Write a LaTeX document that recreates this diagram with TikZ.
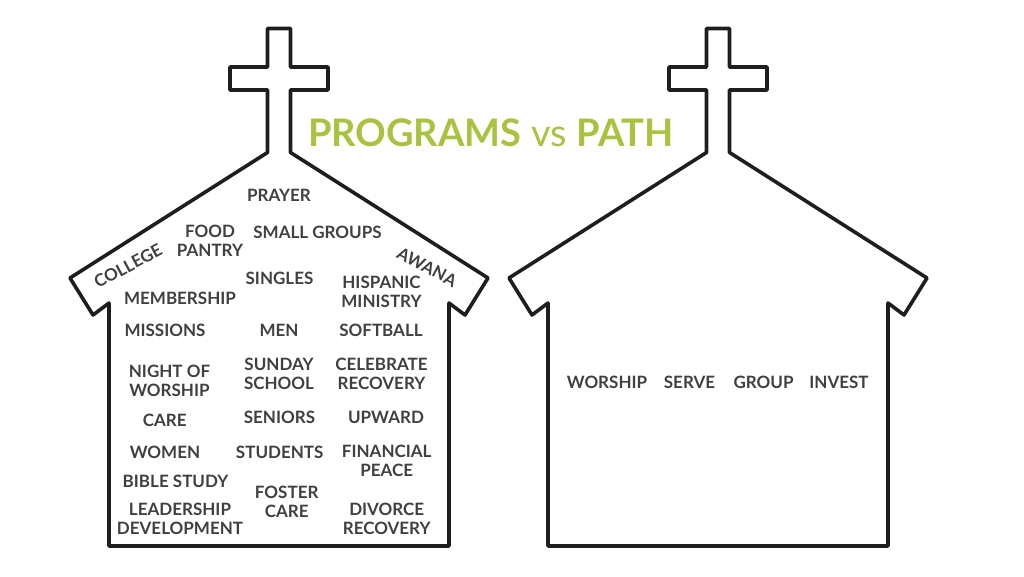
\documentclass[tikz,border=0pt]{standalone}
\usepackage{fontspec}
\setmainfont{Lato}
\usepackage{xcolor}
\definecolor{titlegreen}{HTML}{A9C23F}
\definecolor{itemgray}{HTML}{404040}
\definecolor{wallink}{HTML}{1E1E1E}

\begin{document}
\begin{tikzpicture}[x=1pt, y=-1pt,
  housewall/.style={draw=wallink, line width=3.6pt, line join=round},
  item/.style={inner sep=0pt, align=center, text=itemgray,
    font=\fontsize{17}{19}\selectfont\bfseries},
  titletext/.style={inner sep=0pt, anchor=base, text=titlegreen,
    font=\fontsize{38}{44}\selectfont}]
  \useasboundingbox (0,0) rectangle (1024,576);

  % the two churches
  \foreach \cx in {279,718} {
    \draw[housewall] (\cx-11.5,28.5) -- (\cx+11.5,28.5) -- (\cx+11.5,67) -- (\cx+49,67)
      -- (\cx+49,90) -- (\cx+11.5,90) -- (\cx+11.5,152.5) -- (\cx+209,278)
      -- (\cx+186,315) -- (\cx+170,303) -- (\cx+170,546) -- (\cx-170,546)
      -- (\cx-170,303) -- (\cx-186,315) -- (\cx-209,278) -- (\cx-11.5,152.5)
      -- (\cx-11.5,90) -- (\cx-49,90) -- (\cx-49,67) -- (\cx-11.5,67) -- cycle;
  }

  % title
  \node[titletext] (title) at (491,146.5) {\textbf{PROGRAMS} vs \textbf{PATH}};

  % programs
  \node[item] (prayer) at (279,195) {PRAYER};
  \node[item] (food) at (210,241) {FOOD\\PANTRY};
  \node[item] (smallgroups) at (317.5,232) {SMALL GROUPS};
  \node[item, rotate=28] (college) at (128,266) {COLLEGE};
  \node[item, rotate=-28] (awana) at (427,267) {AWANA};
  \node[item] (singles) at (279.5,278) {SINGLES};
  \node[item] (membership) at (180,298) {MEMBERSHIP};
  \node[item] (hispanic) at (381.5,292) {HISPANIC\\MINISTRY};
  \node[item] (missions) at (165,330) {MISSIONS};
  \node[item] (men) at (279,330) {MEN};
  \node[item] (softball) at (381,330) {SOFTBALL};
  \node[item] (nightof) at (169.5,380.5) {NIGHT OF\\WORSHIP};
  \node[item] (sunday) at (279,374) {SUNDAY\\SCHOOL};
  \node[item] (celebrate) at (381.5,374) {CELEBRATE\\RECOVERY};
  \node[item] (care) at (164.7,420) {CARE};
  \node[item] (seniors) at (279.5,417) {SENIORS};
  \node[item] (upward) at (386,417) {UPWARD};
  \node[item] (women) at (165,452) {WOMEN};
  \node[item] (students) at (279.7,452) {STUDENTS};
  \node[item] (financial) at (386.7,461) {FINANCIAL\\PEACE};
  \node[item] (bible) at (175.5,481.5) {BIBLE STUDY};
  \node[item] (foster) at (286.7,501.5) {FOSTER\\CARE};
  \node[item] (leadership) at (180,518.5) {LEADERSHIP\\DEVELOPMENT};
  \node[item] (divorce) at (386.7,518.5) {DIVORCE\\RECOVERY};

  % path
  \node[item] (worship) at (607,382.5) {WORSHIP};
  \node[item] (serve) at (689.5,382.5) {SERVE};
  \node[item] (group) at (763.5,382.5) {GROUP};
  \node[item] (invest) at (839,382.5) {INVEST};
\end{tikzpicture}
\end{document}
